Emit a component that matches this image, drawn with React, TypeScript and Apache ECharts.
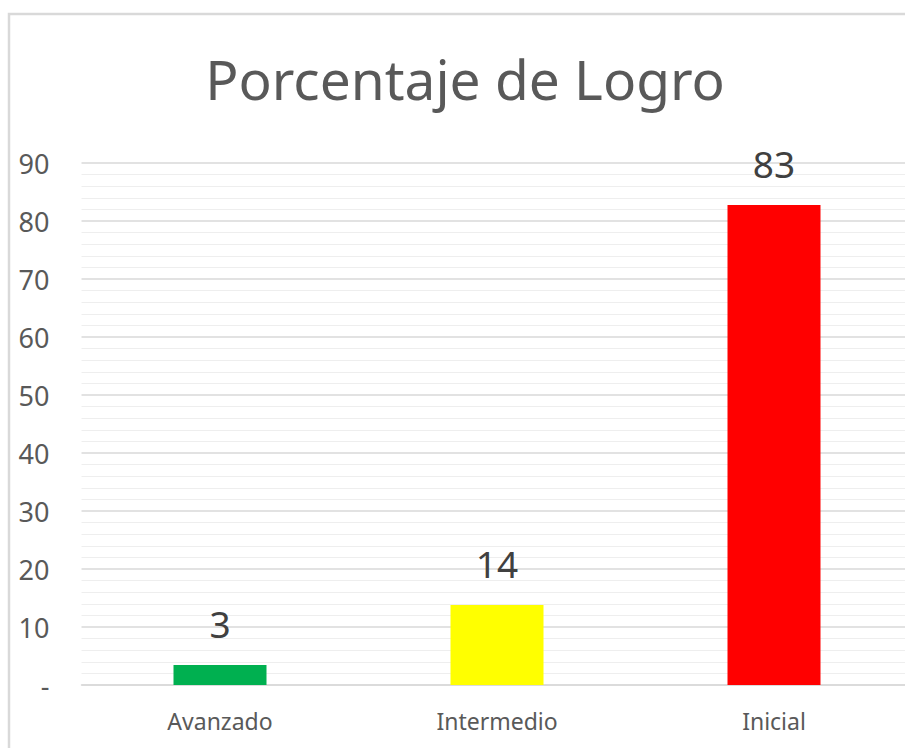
import React, { useEffect, useRef } from "react";
import * as echarts from "echarts";

const categories = ["Avanzado", "Intermedio", "Inicial"];
const values = [3.45, 13.79, 82.76];
const barColors = ["#00b050", "#ffff00", "#ff0000"];
const titleText = "Porcentaje de Logro";

export default function App() {
  const ref = useRef<HTMLDivElement>(null);
  useEffect(() => {
    if (!ref.current) return;
    const chart = echarts.init(ref.current, null, { renderer: "svg" });
    chart.setOption({
      animation: false,
      backgroundColor: "#ffffff",
      title: {
        text: titleText,
        left: 460,
        textAlign: "center",
        top: 46,
        textStyle: {
          fontFamily: "Noto Sans",
          fontSize: 55,
          fontWeight: "normal",
          color: "#595959",
        },
      },
      graphic: [
        {
          type: "rect",
          shape: { x: 9, y: 14, width: 1200, height: 1200 },
          style: { fill: "none", stroke: "#d9d9d9", lineWidth: 2.5 },
          silent: true,
          z: -1,
        },
      ],
      grid: { left: 81.5, top: 163, width: 831, bottom: 63, containLabel: false },
      xAxis: {
        type: "category",
        data: categories,
        axisLine: { show: true, lineStyle: { color: "#d9d9d9", width: 1.5 } },
        axisTick: { show: false },
        axisLabel: {
          fontFamily: "Noto Sans",
          fontSize: 23,
          color: "#595959",
          margin: 24,
        },
      },
      yAxis: {
        type: "value",
        min: 0,
        max: 90,
        interval: 10,
        axisLine: { show: false },
        axisTick: { show: false },
        axisLabel: {
          fontFamily: "Noto Sans",
          fontSize: 27,
          color: "#595959",
          margin: 32,
          formatter: (v: number) => (v === 0 ? "-" : String(v)),
        },
        splitLine: { lineStyle: { color: "#d9d9d9", width: 1.5 } },
        minorTick: { show: false, splitNumber: 5 },
        minorSplitLine: { show: true, lineStyle: { color: "#eeeeee", width: 1 } },
      },
      series: [
        {
          type: "bar",
          barWidth: 93,
          data: values.map((v, i) => ({ value: v, itemStyle: { color: barColors[i] } })),
          label: {
            show: true,
            position: "top",
            distance: 23,
            fontFamily: "Noto Sans",
            fontSize: 37,
            color: "#404040",
            formatter: (p: any) => String(Math.round(p.value)),
          },
        },
      ],
    });
    return () => chart.dispose();
  }, []);
  return (
    <div
      style={{
        position: "absolute",
        left: 0,
        top: 0,
        width: 905,
        height: 748,
        overflow: "hidden",
      }}
    >
      <div ref={ref} style={{ width: 930, height: 748 }} />
    </div>
  );
}
